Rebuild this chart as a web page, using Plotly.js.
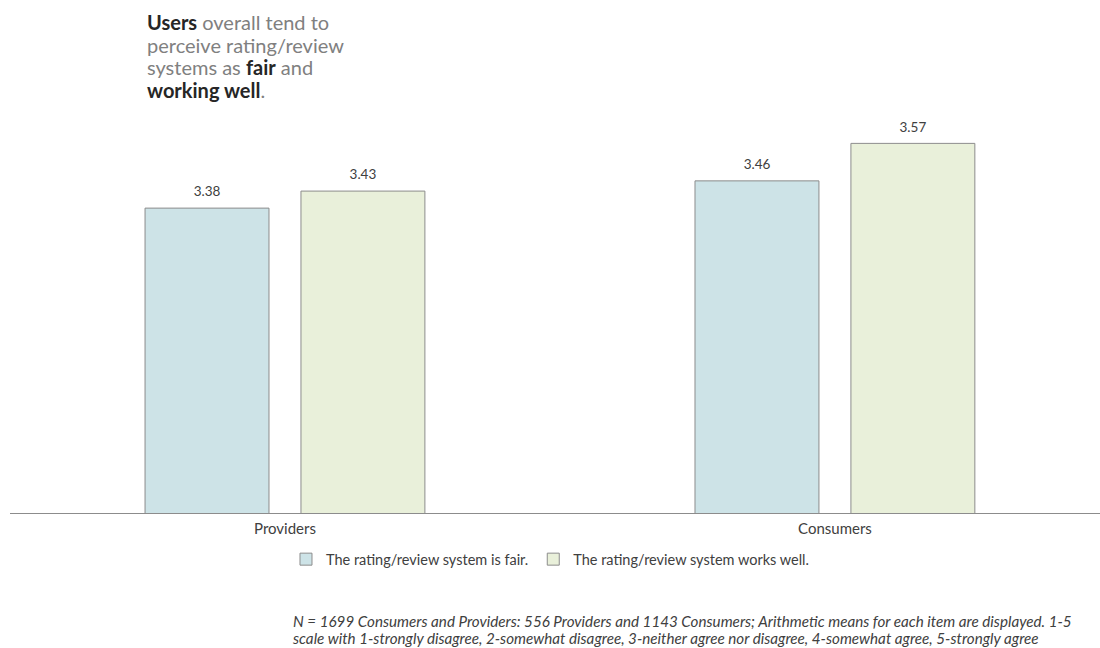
<!DOCTYPE html>
<html>
<head>
<meta charset="utf-8">
<script src="https://cdn.plot.ly/plotly-3.0.1.min.js"></script>
<style>html,body{margin:0;padding:0;background:#fff;}#chart{width:1100px;height:648px;}</style>
</head>
<body>
<div id="chart"></div>
<script>
const categories = ["Providers", "Consumers"];
const seriesNames = ["The rating/review system is fair.", "The rating/review system works well."];
const fairValues = [3.38, 3.46];
const worksWellValues = [3.43, 3.57];
const titleLines = [
  "<b style='color:#262626'>Users</b> overall tend to",
  "perceive rating/review",
  "systems as <b style='color:#262626'>fair</b> and",
  "<b style='color:#262626'>working well</b>."
];

const FONT = "Lato, 'Open Sans', sans-serif";
const seriesValues = [fairValues, worksWellValues];
const fills = ["rgb(205,227,231)", "rgb(233,240,218)"];

const traces = [];
seriesValues.forEach((vals, i) => {
  traces.push({
    type: "bar", name: seriesNames[i], x: categories, y: vals,
    marker: {color: fills[i], line: {color: "#8c8c8c", width: 1}},
    hoverinfo: "skip"
  });
});
seriesValues.forEach((vals, i) => {
  traces.push({
    type: "scatter", mode: "markers+text", x: categories, y: vals, showlegend: false,
    marker: {size: 12, opacity: 0, color: fills[i]},
    text: vals.map(v => v.toFixed(2)), textposition: "top center", cliponaxis: false,
    textfont: {size: 13.5, color: "#404040", family: FONT}, hoverinfo: "skip"
  });
});

const titleY = [1.2184, 1.1613, 1.1067, 1.0496];
const annotations = titleLines.map((t, i) => ({
  xref: "paper", yref: "paper", x: 0.1239, y: titleY[i], xanchor: "left", yanchor: "middle", align: "left",
  showarrow: false, font: {size: 20, color: "#808080", family: FONT}, text: t
}));
annotations.push(
  {xref: "paper", yref: "paper", x: 0.2578, y: -0.268, xanchor: "left", yanchor: "middle", align: "left",
   showarrow: false, font: {size: 15.2, color: "#404040", family: FONT},
   text: "<i>N = 1699 Consumers and Providers: 556 Providers and 1143 Consumers; Arithmetic means for each item are displayed. 1-5</i>"},
  {xref: "paper", yref: "paper", x: 0.2578, y: -0.3094, xanchor: "left", yanchor: "middle", align: "left",
   showarrow: false, font: {size: 15.2, color: "#404040", family: FONT},
   text: "<i>scale with 1-strongly disagree, 2-somewhat disagree, 3-neither agree nor disagree, 4-somewhat agree, 5-strongly agree</i>"}
);

const layout = {
  width: 1100, height: 648,
  margin: {l: 10, r: 0, t: 110, b: 135},
  paper_bgcolor: "#fff", plot_bgcolor: "#fff",
  font: {family: FONT, color: "#404040", size: 12},
  barmode: "group", bargap: 0.433, bargroupgap: 0.205,
  scattermode: "group", scattergap: 0.433,
  showlegend: true,
  legend: {orientation: "h", x: 0.2532, xanchor: "left", y: -0.075, yanchor: "top",
           font: {size: 14.5, color: "#404040"}, traceorder: "normal"},
  xaxis: {type: "category", range: [-0.5, 1.482], showline: true, linecolor: "#8c8c8c", linewidth: 1,
          ticks: "", ticklabelstandoff: 2, tickfont: {size: 15, color: "#404040"}, showgrid: false, zeroline: false, fixedrange: true},
  yaxis: {range: [2.485, 3.668], visible: false, showgrid: false, zeroline: false, fixedrange: true},
  annotations: annotations
};

Plotly.newPlot("chart", traces, layout, {displayModeBar: false, staticPlot: true});
</script>
</body>
</html>
